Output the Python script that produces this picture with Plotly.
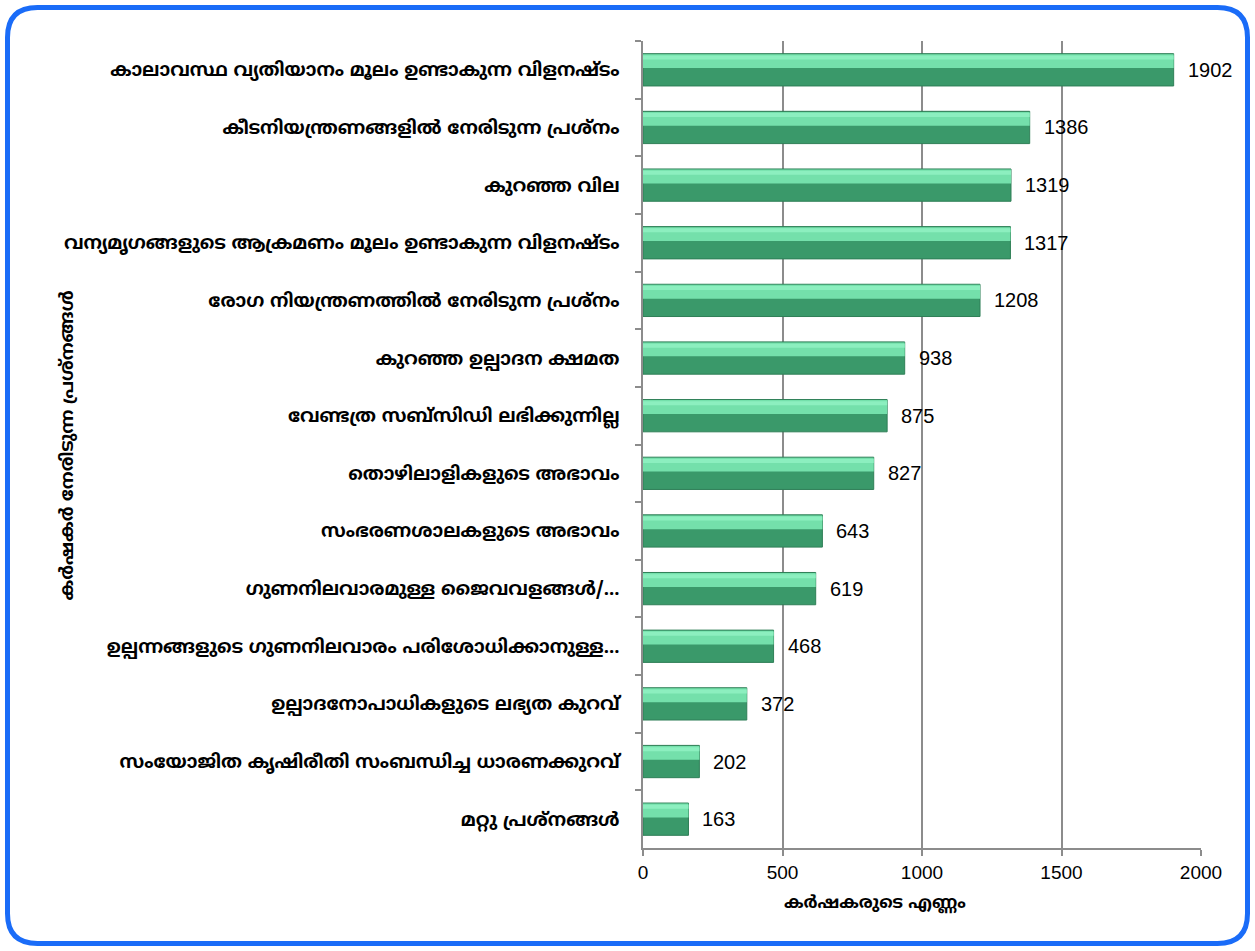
import plotly.graph_objects as go

# Problems reported by farmers and number of farmers reporting each
problems = [
    "കാലാവസ്ഥ വ്യതിയാനം മൂലം ഉണ്ടാകുന്ന വിളനഷ്ടം",
    "കീടനിയന്ത്രണങ്ങളിൽ നേരിടുന്ന പ്രശ്നം",
    "കുറഞ്ഞ വില",
    "വന്യമൃഗങ്ങളുടെ ആക്രമണം മൂലം ഉണ്ടാകുന്ന വിളനഷ്ടം",
    "രോഗ നിയന്ത്രണത്തിൽ നേരിടുന്ന പ്രശ്നം",
    "കുറഞ്ഞ ഉല്പാദന ക്ഷമത",
    "വേണ്ടത്ര സബ്‌സിഡി ലഭിക്കുന്നില്ല",
    "തൊഴിലാളികളുടെ അഭാവം",
    "സംഭരണശാലകളുടെ അഭാവം",
    "ഗുണനിലവാരമുള്ള ജൈവവളങ്ങൾ/...",
    "ഉല്പന്നങ്ങളുടെ ഗുണനിലവാരം പരിശോധിക്കാനുള്ള...",
    "ഉല്പാദനോപാധികളുടെ ലഭ്യത കുറവ്",
    "സംയോജിത കൃഷിരീതി സംബന്ധിച്ച ധാരണക്കുറവ്",
    "മറ്റു പ്രശ്നങ്ങൾ",
]
farmers = [1902, 1386, 1319, 1317, 1208, 938, 875, 827, 643, 619, 468, 372, 202, 163]

x_ticks = [0, 500, 1000, 1500, 2000]
x_title = "കർഷകരുടെ എണ്ണം"
y_title = "കർഷകർ നേരിടുന്ന പ്രശ്നങ്ങൾ"

W, H = 1255, 951
ML, MR, MT, MB = 643, 54, 41, 103
PW, PH = W - ML - MR, H - MT - MB

LABEL_FONT = "Noto Sans Malayalam, Noto Sans, DejaVu Sans, sans-serif"
NUM_FONT = "Liberation Sans, Arial, sans-serif"

fig = go.Figure()

# body of each bar (darker lower face)
fig.add_trace(go.Bar(
    x=farmers, y=problems, orientation="h",
    width=0.56, offset=-0.28,
    marker=dict(color="#3a996a", line=dict(color="#2f7f57", width=1)),
    hoverinfo="x+y", showlegend=False,
))
# light upper face
fig.add_trace(go.Bar(
    x=farmers, y=problems, orientation="h",
    width=0.24, offset=-0.27,
    marker=dict(color="#74e0ab", line=dict(width=0)),
    hoverinfo="skip", showlegend=False,
))
# bright highlight strip
fig.add_trace(go.Bar(
    x=farmers, y=problems, orientation="h",
    width=0.07, offset=-0.25,
    marker=dict(color="#8cefbf", line=dict(width=0)),
    hoverinfo="skip", showlegend=False,
))

# value labels to the right of the bars
for p, v in zip(problems, farmers):
    fig.add_annotation(
        x=v, y=p, text=str(v), showarrow=False,
        xanchor="left", yanchor="middle", xshift=12,
        font=dict(family=NUM_FONT, size=20, color="#000000"),
    )

# axis titles
fig.add_annotation(
    x=(875 - ML) / PW, y=(H - 917 - MB) / PH, xref="paper", yref="paper",
    text=f"<b>{x_title}</b>", showarrow=False,
    font=dict(family=LABEL_FONT, size=17, color="#000000"),
)
fig.add_annotation(
    x=(55 - ML) / PW, y=(H - 446 - MB) / PH, xref="paper", yref="paper",
    text=f"<b>{y_title}</b>", showarrow=False, textangle=-90,
    font=dict(family=LABEL_FONT, size=18, color="#000000"),
)

# rounded blue frame around the whole chart
def px(x):
    return (x - ML) / PW

def py(y):
    return (H - MB - y) / PH

x0, x1, y0, y1, r = 7.5, 1247.5, 7.5, 943.5, 30
path = (
    f"M {px(x0 + r)} {py(y0)} L {px(x1 - r)} {py(y0)} "
    f"Q {px(x1)} {py(y0)} {px(x1)} {py(y0 + r)} "
    f"L {px(x1)} {py(y1 - r)} "
    f"Q {px(x1)} {py(y1)} {px(x1 - r)} {py(y1)} "
    f"L {px(x0 + r)} {py(y1)} "
    f"Q {px(x0)} {py(y1)} {px(x0)} {py(y1 - r)} "
    f"L {px(x0)} {py(y0 + r)} "
    f"Q {px(x0)} {py(y0)} {px(x0 + r)} {py(y0)} Z"
)
fig.add_shape(type="path", path=path, xref="paper", yref="paper",
              line=dict(color="#1a6cf8", width=5), layer="above")

fig.update_layout(
    width=W, height=H,
    margin=dict(l=ML, r=MR, t=MT, b=MB, autoexpand=False),
    paper_bgcolor="white", plot_bgcolor="white",
    barmode="overlay", bargap=0.44,
    xaxis=dict(
        range=[0, 2000], tickvals=x_ticks, ticktext=[str(t) for t in x_ticks],
        showgrid=True, gridcolor="#8c8c8c", gridwidth=1.5,
        showline=True, linecolor="#8c8c8c", linewidth=1.5,
        ticks="outside", ticklen=6, tickcolor="#8c8c8c", tickwidth=1.5,
        tickfont=dict(family=NUM_FONT, size=19, color="#000000"),
        zeroline=False, automargin=False, fixedrange=True,
    ),
    yaxis=dict(
        type="category", autorange="reversed",
        showgrid=False, showline=True, linecolor="#8c8c8c", linewidth=1.5,
        ticks="outside", tickson="boundaries", ticklen=6,
        tickcolor="#8c8c8c", tickwidth=1.5,
        tickprefix="<b>", ticksuffix="</b>",
        tickfont=dict(family=LABEL_FONT, size=18.5, color="#000000"),
        ticklabelstandoff=18,
        automargin=False, fixedrange=True,
    ),
)

fig.write_html("out.html")
